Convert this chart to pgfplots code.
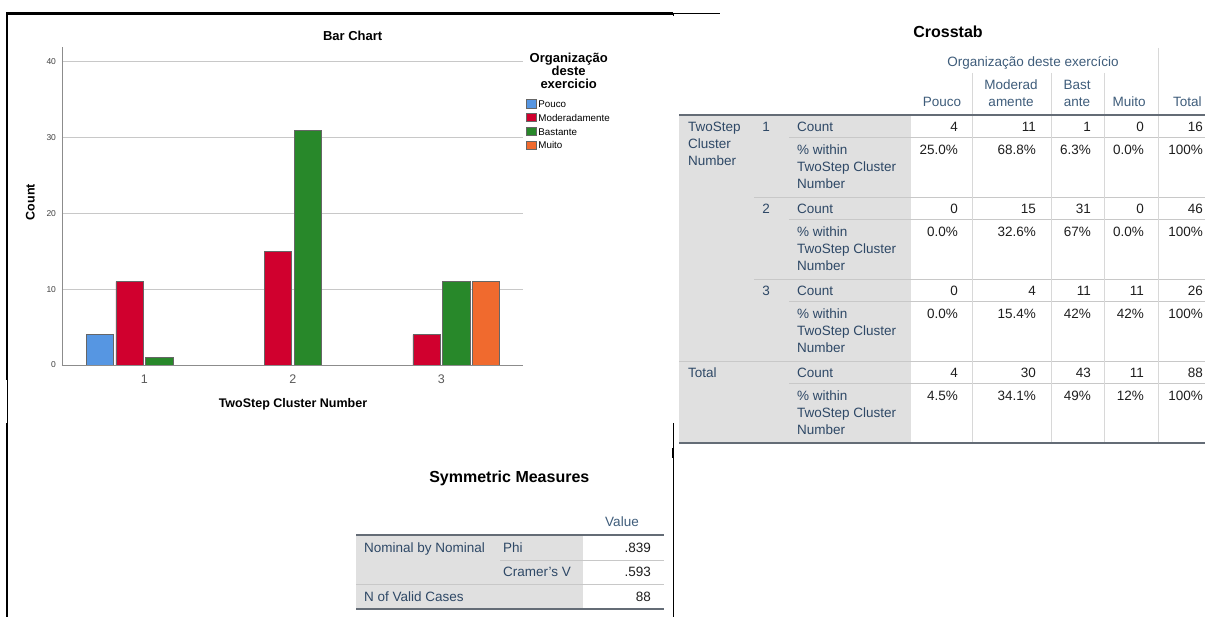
\documentclass[border=0pt]{standalone}
\usepackage{pgfplots}
\pgfplotsset{compat=1.18}
\usepackage{fontspec}
\setmainfont{Liberation Sans}
\definecolor{cpouco}{RGB}{86,150,226}
\definecolor{cmoder}{RGB}{208,0,46}
\definecolor{cbast}{RGB}{40,136,42}
\definecolor{cmuito}{RGB}{240,106,46}
\definecolor{gridg}{RGB}{200,200,200}
\definecolor{axg}{RGB}{140,140,140}
\definecolor{hdr}{RGB}{62,92,122}
\definecolor{stub}{RGB}{46,72,102}
\definecolor{tgray}{RGB}{224,224,224}
\definecolor{tline}{RGB}{200,200,200}
\definecolor{tdark}{RGB}{100,108,118}
\definecolor{tval}{RGB}{30,30,30}
\newcommand\fs[1]{\fontsize{#1}{#1}\selectfont}
\newcommand\TL[3]{\node[anchor=base west,inner sep=0pt] at (#1,#2) {#3};}
\newcommand\TR[3]{\node[anchor=base east,inner sep=0pt] at (#1,#2) {#3};}
\newcommand\TC[3]{\node[anchor=base,inner sep=0pt] at (#1,#2) {#3};}
\newcommand\row[6]{\TR{958}{#1}{#2}\TR{1036}{#1}{#3}\TR{1091}{#1}{#4}\TR{1144}{#1}{#5}\TR{1203}{#1}{#6}}
\newcommand\pct[1]{\TL{797}{#1}{\% within}\TL{797}{#1+17}{TwoStep Cluster}\TL{797}{#1+34}{Number}}
\pgfplotsset{swatch/.style={legend image code/.code={\draw[##1,draw=black!60,line width=0.5pt] (0pt,-0.3em) rectangle (10.5pt,0.55em);}}}
\begin{document}
\begin{tikzpicture}
\path[use as bounding box] (0,0) rectangle (1205pt,617pt);
\begin{axis}[
  at={(62pt,252pt)}, anchor=south west,
  scale only axis, width=461.4pt, height=318.3pt,
  xmin=0.445, xmax=3.552, ymin=0, ymax=42,
  axis x line*=bottom, axis y line*=left,
  axis line style={draw=axg, line width=0.8pt, -},
  ytick={0,10,20,30,40}, xtick={1,2,3},
  major tick length=0pt,
  ymajorgrids, grid style={draw=gridg, line width=0.8pt},
  ybar, bar width=0.183,
  /pgf/number format/assume math mode=true,
  yticklabel style={font=\fs{8.5}, text=black!75, xshift=-2.5pt},
  xticklabel style={font=\fs{12.5}, text=black!65, yshift=-6pt},
  title={Bar Chart},
  title style={font=\bfseries\fs{13}, at={(axis description cs:0.630,1.036)}, anchor=center, yshift=-6.5pt},
  xlabel={TwoStep Cluster Number},
  xlabel style={font=\bfseries\fs{12.5}, at={(axis description cs:0.5006,-0.1245)}, anchor=center},
  ylabel={Count},
  ylabel style={font=\bfseries\fs{12.5}, at={(axis description cs:-0.0685,0.512)}, anchor=center},
  legend style={at={(axis description cs:1.005,0.837)}, anchor=north west, draw=none, fill=none,
    inner sep=0pt, font=\fs{9.8}, row sep=1.9pt,
    nodes={inner sep=1.5pt, text height=7pt, text depth=2pt}},
  legend cell align=left,
]
\addplot[swatch, fill=cpouco, draw=black!60, line width=0.5pt, bar shift=-0.3] coordinates {(1,4)};
\addplot[swatch, fill=cmoder, draw=black!60, line width=0.5pt, bar shift=-0.1] coordinates {(1,11) (2,15) (3,4)};
\addplot[swatch, fill=cbast, draw=black!60, line width=0.5pt, bar shift=0.1] coordinates {(1,1) (2,31) (3,11)};
\addplot[swatch, fill=cmuito, draw=black!60, line width=0.5pt, bar shift=0.3] coordinates {(3,11)};
\legend{Pouco, Moderadamente, Bastante, Muito}
\end{axis}
\begin{scope}[x=1pt, y=-1pt, yshift=617pt]
\clip (0,0) rectangle (1205,617);
% legend title
\node[align=center, font=\bfseries\fontsize{13}{13}\selectfont, inner sep=0pt] at (568.7,71) {Organização\\deste\\exercicio};
% borders
\draw[line width=2.2pt] (6,13.5) -- (673,13.5);
\draw[line width=0.7pt] (673,13.5) -- (720,13.5);
\draw[line width=1pt] (673,13) -- (673,16);
\draw[line width=2pt] (7,13) -- (7,380);
\draw[line width=0.8pt] (7,380) -- (7,423);
\draw[line width=2pt] (7,423) -- (7,617);
\draw[line width=1pt] (673,423) -- (673,617);
\draw[line width=2pt] (673,448) -- (673,458);
% ===== Crosstab =====
\fill[tgray] (679,115) rectangle (911,443);
\foreach \s in {115,197,279,361} {\draw[tline, line width=0.8pt] (789,\s+22) -- (1205,\s+22);}
\draw[tline, line width=0.8pt] (754,197) -- (1205,197);
\draw[tline, line width=0.8pt] (754,279) -- (1205,279);
\draw[tline, line width=0.8pt] (679,361) -- (1205,361);
\draw[tline!70, line width=0.8pt] (972,73) -- (972,443);
\draw[tline!70, line width=0.8pt] (1051,73) -- (1051,443);
\draw[tline!70, line width=0.8pt] (1104,73) -- (1104,443);
\draw[tline!70, line width=0.8pt] (1158,48) -- (1158,443);
\draw[tdark, line width=1.3pt] (679,115) -- (1205,115);
\draw[tdark, line width=2.2pt] (679,443) -- (1205,443);
\node[font=\bfseries\fs{16}] at (948,31.5) {Crosstab};
\begin{scope}[font=\fontsize{13.5}{16}\selectfont, text=hdr]
\TC{1033}{66.8}{Organização deste exercício}
\TC{942}{106.3}{Pouco}
\TC{1011}{89.8}{Moderad}
\TC{1011}{106.3}{amente}
\TC{1077}{89.8}{Bast}
\TC{1077}{106.3}{ante}
\TC{1129}{106.3}{Muito}
\TL{1173}{106.3}{Total}
\end{scope}
\begin{scope}[font=\fontsize{13.5}{16}\selectfont, text=stub]
\TL{688}{131.8}{TwoStep}
\TL{688}{148.8}{Cluster}
\TL{688}{165.8}{Number}
\TL{688}{377.8}{Total}
\TC{766}{131.8}{1}
\TC{766}{213.8}{2}
\TC{766}{295.8}{3}
\TL{797}{131.8}{Count}
\TL{797}{213.8}{Count}
\TL{797}{295.8}{Count}
\TL{797}{377.8}{Count}
\pct{154.8}
\pct{236.8}
\pct{318.8}
\pct{400.8}
\end{scope}
\begin{scope}[font=\fontsize{13.5}{16}\selectfont, text=tval]
\row{131.8}{4}{11}{1}{0}{16}
\row{154.8}{25.0\%}{68.8\%}{6.3\%}{0.0\%}{100\%}
\row{213.8}{0}{15}{31}{0}{46}
\row{236.8}{0.0\%}{32.6\%}{67\%}{0.0\%}{100\%}
\row{295.8}{0}{4}{11}{11}{26}
\row{318.8}{0.0\%}{15.4\%}{42\%}{42\%}{100\%}
\row{377.8}{4}{30}{43}{11}{88}
\row{400.8}{4.5\%}{34.1\%}{49\%}{12\%}{100\%}
\end{scope}
% ===== Symmetric Measures =====
\fill[tgray] (356,535) rectangle (583,609);
\draw[tline, line width=0.8pt] (500,560) -- (664,560);
\draw[tline, line width=0.8pt] (356,584) -- (664,584);
\draw[tdark, line width=1.3pt] (356,535) -- (664,535);
\draw[tdark, line width=2.2pt] (356,609) -- (664,609);
\node[font=\bfseries\fs{16}] at (509.3,478) {Symmetric Measures};
\begin{scope}[font=\fontsize{13.5}{16}\selectfont, text=hdr]
\TC{622}{526.8}{Value}
\end{scope}
\begin{scope}[font=\fontsize{13.5}{16}\selectfont, text=stub]
\TL{364}{552.8}{Nominal by Nominal}
\TL{503}{552.8}{Phi}
\TL{503}{576.8}{Cramer's V}
\TL{364}{601.8}{N of Valid Cases}
\end{scope}
\begin{scope}[font=\fontsize{13.5}{16}\selectfont, text=tval]
\TR{651}{552.8}{.839}
\TR{651}{576.8}{.593}
\TR{651}{601.8}{88}
\end{scope}
\end{scope}
\end{tikzpicture}
\end{document}
